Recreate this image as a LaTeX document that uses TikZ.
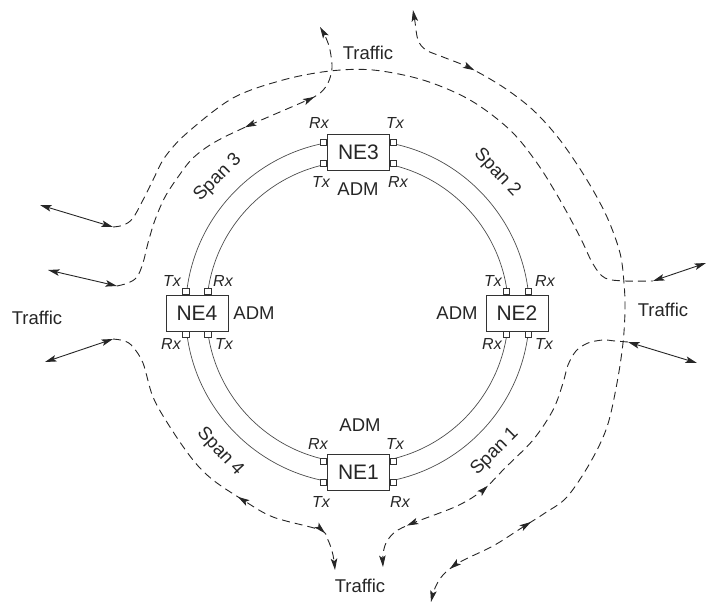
\documentclass[tikz,border=0pt]{standalone}
\usepackage{fontspec}
\setmainfont{Liberation Sans}
\usetikzlibrary{arrows.meta,decorations.markings}
\begin{document}
\begin{tikzpicture}[x=1pt,y=-1pt,
  >={Stealth[length=11.5pt,width=6.5pt,inset=2.5pt]},
  ringline/.style={draw=black!70, line width=0.7pt},
  nebox/.style={draw=black!80, fill=white, line width=0.8pt, minimum width=62pt, minimum height=36pt, inner sep=0pt, font=\fontsize{21}{21}\selectfont, text=black!85},
  port/.style={draw=black!80, fill=white, line width=0.6pt, minimum width=6.5pt, minimum height=6pt, inner sep=0pt},
  rxtx/.style={font=\fontsize{16}{16}\selectfont\itshape, inner sep=0pt, text=black!85},
  lbl/.style={font=\fontsize{18.5}{18.5}\selectfont, inner sep=0pt, text=black!85},
  traffic/.style={draw=black!85, line width=0.9pt, dash pattern=on 8pt off 5pt},
  solidarrow/.style={draw=black!85, line width=0.9pt, <->},
]
\useasboundingbox (0,0) rectangle (710,608);

% ring
\coordinate (c) at (357.5,312);
\draw[ringline] (c) circle[radius=172];
\draw[ringline] (c) circle[radius=151];

% network elements
\node[nebox] (ne3) at (358.5,152) {NE3};
\node[nebox] (ne1) at (358.5,472) {NE1};
\node[nebox] (ne4) at (197,313) {NE4};
\node[nebox] (ne2) at (517,313) {NE2};

% ports
\node[port] (p3a) at (323.5,142) {};
\node[port] (p3b) at (323.5,163) {};
\node[port] (p3c) at (393.5,142) {};
\node[port] (p3d) at (393.5,163) {};
\node[port] (p1a) at (323.5,461.5) {};
\node[port] (p1b) at (323.5,482.5) {};
\node[port] (p1c) at (393.5,461.5) {};
\node[port] (p1d) at (393.5,482.5) {};
\node[port] (p4a) at (186,291.5) {};
\node[port] (p4b) at (208,291.5) {};
\node[port] (p4c) at (186,334.5) {};
\node[port] (p4d) at (208,334.5) {};
\node[port] (p2a) at (506.5,291.5) {};
\node[port] (p2b) at (528.5,291.5) {};
\node[port] (p2c) at (506.5,334.5) {};
\node[port] (p2d) at (528.5,334.5) {};

% Rx / Tx labels
\node[rxtx] (l3a) at (319,123) {Rx};
\node[rxtx] (l3b) at (395,123) {Tx};
\node[rxtx] (l3c) at (321,182) {Tx};
\node[rxtx] (l3d) at (398,182) {Rx};
\node[rxtx] (l4a) at (172,281) {Tx};
\node[rxtx] (l4b) at (223,281) {Rx};
\node[rxtx] (l4c) at (171,344) {Rx};
\node[rxtx] (l4d) at (224,344) {Tx};
\node[rxtx] (l2a) at (493,281) {Tx};
\node[rxtx] (l2b) at (545,281) {Rx};
\node[rxtx] (l2c) at (492,344) {Rx};
\node[rxtx] (l2d) at (544,344) {Tx};
\node[rxtx] (l1a) at (318,444) {Rx};
\node[rxtx] (l1b) at (395,444) {Tx};
\node[rxtx] (l1c) at (321,502) {Tx};
\node[rxtx] (l1d) at (400,502) {Rx};

% ADM labels
\node[lbl] (adm3) at (358,189) {ADM};
\node[lbl] (adm4) at (254,313) {ADM};
\node[lbl] (adm2) at (457,313) {ADM};
\node[lbl] (adm1) at (360,425) {ADM};

% span labels
\node[lbl, rotate=45] (span3) at (218,178) {Span 3};
\node[lbl, rotate=-47] (span2) at (497,173) {Span 2};
\node[lbl, rotate=-47] (span4) at (220,452) {Span 4};
\node[lbl, rotate=45] (span1) at (495,452) {Span 1};

% traffic labels
\node[lbl] (trT) at (368,53) {Traffic};
\node[lbl] (trL) at (37,318) {Traffic};
\node[lbl] (trR) at (663,310) {Traffic};
\node[lbl] (trB) at (360,586) {Traffic};

% solid traffic arrows
\coordinate (a1o) at (40,205);  \coordinate (a1i) at (113,227);
\coordinate (a2o) at (48,270);  \coordinate (a2i) at (117,286);
\coordinate (a3o) at (706,263); \coordinate (a3i) at (653,281);
\coordinate (a4o) at (697,363); \coordinate (a4i) at (628,342);
\coordinate (a5o) at (45,362);  \coordinate (a5i) at (113,339);
\draw[solidarrow] (a1o) -- (a1i);
\draw[solidarrow] (a2o) -- (a2i);
\draw[solidarrow] (a3o) -- (a3i);
\draw[solidarrow] (a4o) -- (a4i);
\draw[solidarrow] (a5o) -- (a5i);

% path 1: left over the top to the right
\draw[traffic] plot[smooth, tension=0.55] coordinates {(a1i) (124,225) (133,218) (143,200) (153,180) (165,157) (187,133) (233,98) (283,80) (330,71) (373,70) (423,80) (470,100) (510,130) (537,163) (560,200) (580,237) (593,264) (605,278) (625,281) (a3i)};

% path 2: left up to top
\draw[traffic, ->, decoration={markings,
    mark=at position 216pt with {\arrowreversed{>}},
    mark=at position 292pt with {\arrow{>}}}, postaction={decorate}]
  plot[smooth, tension=0.55] coordinates {(a2i) (128,283) (137,277) (143,263) (148,243) (155,220) (165,197) (178,177) (193,158) (215,142) (250,125) (303,102) (319,94) (328,83) (332,68) (330,50) (326,38) (320,27)};

% path 3: top around right to bottom
\draw[traffic, <->, decoration={markings,
    mark=at position 96pt with {\arrow{>}},
    mark=at position 637pt with {\arrowreversed{>}},
    mark=at position 731pt with {\arrow{>}}}, postaction={decorate}]
  plot[smooth, tension=0.55] coordinates {(413,10) (415,22) (418,40) (426,50) (443,57) (470,68) (503,87) (533,110) (560,140) (587,180) (607,217) (620,253) (624,283) (625,310) (623,343) (617,383) (607,427) (590,463) (567,497) (545,513) (523,527) (493,546) (460,562) (443,575) (435,588) (431,602)};

% path 4: right down to bottom
\draw[traffic, ->, decoration={markings,
    mark=at position 219pt with {\arrowreversed{>}},
    mark=at position 310pt with {\arrow{>}}}, postaction={decorate}]
  plot[smooth, tension=0.55] coordinates {(a4i) (615,341) (603,340) (588,343) (576,351) (568,365) (563,383) (553,410) (533,440) (505,468) (483,490) (457,506) (413,523) (395,532) (386,543) (383,555) (383,567)};

% path 5: left down to bottom
\draw[traffic, ->, decoration={markings,
    mark=at position 210pt with {\arrowreversed{>}},
    mark=at position 305pt with {\arrow{>}}}, postaction={decorate}]
  plot[smooth, tension=0.55] coordinates {(a5i) (125,341) (133,347) (143,363) (153,397) (170,427) (193,460) (213,480) (243,500) (273,517) (320,530) (328,540) (333,555) (335,570)};

\end{tikzpicture}
\end{document}
